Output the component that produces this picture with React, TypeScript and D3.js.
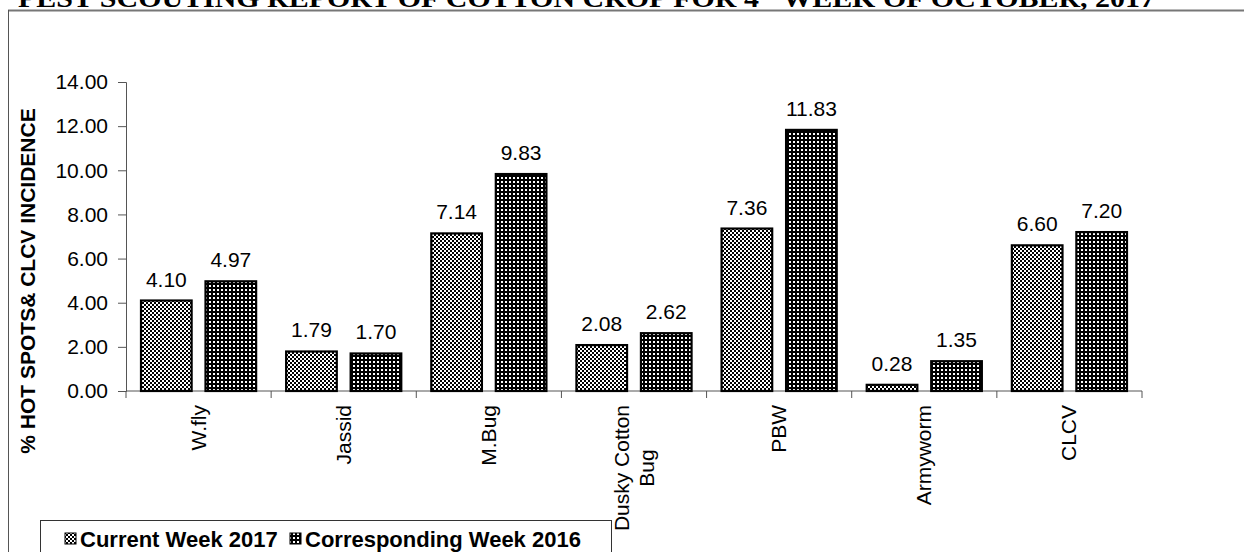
// @ts-nocheck
import { useEffect, useRef } from "react";
import * as d3 from "d3";

const categories = ["W.fly", "Jassid", "M.Bug", "Dusky Cotton\nBug", "PBW", "Armyworm", "CLCV"];
const current2017 = [4.1, 1.79, 7.14, 2.08, 7.36, 0.28, 6.6];
const corresponding2016 = [4.97, 1.7, 9.83, 2.62, 11.83, 1.35, 7.2];
const seriesNames = ["Current Week 2017", "Corresponding Week 2016"];
const yTicks = [0, 2, 4, 6, 8, 10, 12, 14];

const W = 1244;
const H = 552;
const sans = "'Liberation Sans', Arial, sans-serif";
const serif = "'Liberation Serif', 'Times New Roman', serif";

function App() {
  const svgRef = useRef<SVGSVGElement>(null);

  useEffect(() => {
    const svg = d3.select(svgRef.current);
    svg.selectAll("*").remove();

    // fill patterns
    const defs = svg.append("defs");
    const p1 = defs.append("pattern").attr("id", "checker").attr("patternUnits", "userSpaceOnUse")
      .attr("width", 4).attr("height", 4);
    p1.append("rect").attr("width", 4).attr("height", 4).attr("fill", "#fff");
    p1.append("rect").attr("x", 0).attr("y", 0).attr("width", 2).attr("height", 2).attr("fill", "#000");
    p1.append("rect").attr("x", 2).attr("y", 2).attr("width", 2).attr("height", 2).attr("fill", "#000");
    const p2 = defs.append("pattern").attr("id", "dots").attr("patternUnits", "userSpaceOnUse")
      .attr("width", 4).attr("height", 4);
    p2.append("rect").attr("width", 4).attr("height", 4).attr("fill", "#000");
    p2.append("rect").attr("x", 1).attr("y", 1).attr("width", 2).attr("height", 2).attr("fill", "#fff");
    const fills = ["url(#checker)", "url(#dots)"];

    // title (cut at top, as in the source) and outer frame
    const title = svg.append("text").attr("x", 18).attr("y", 7)
      .attr("font-family", serif).attr("font-weight", "bold").attr("font-size", 26)
      .attr("textLength", 1137).attr("lengthAdjust", "spacingAndGlyphs");
    title.append("tspan").text("PEST SCOUTING REPORT OF  COTTON CROP FOR 4");
    title.append("tspan").attr("dy", -10).attr("font-size", 16).text("th");
    title.append("tspan").attr("dy", 10).text("  WEEK OF OCTOBER, 2017");

    svg.append("line").attr("x1", 8).attr("x2", W).attr("y1", 10.5).attr("y2", 10.5)
      .attr("stroke", "#777").attr("stroke-width", 2);
    svg.append("line").attr("x1", 8.5).attr("x2", 8.5).attr("y1", 10).attr("y2", H)
      .attr("stroke", "#555").attr("stroke-width", 1);

    const x0 = d3.scaleBand().domain(categories).range([126, 1142]);
    const x1 = d3.scaleBand().domain([0, 1]).range([15, x0.bandwidth() - 15]).paddingInner(0.215);
    const y = d3.scaleLinear().domain([0, 14]).range([391, 82]);

    // y axis
    const yAxis = svg.append("g").attr("transform", "translate(126,0)")
      .call(d3.axisLeft(y).tickValues(yTicks).tickSize(8).tickPadding(10).tickFormat(d3.format(".2f")));
    yAxis.selectAll("path, line").attr("stroke", "#555");
    yAxis.selectAll("text").attr("font-family", sans).attr("font-size", 21).attr("fill", "#000");

    // x axis with ticks at category boundaries
    const xAxis = svg.append("g").attr("transform", "translate(0,391)");
    xAxis.append("line").attr("x1", 126).attr("x2", 1142).attr("stroke", "#555");
    const bounds = categories.map((c) => x0(c)).concat([1142]);
    xAxis.selectAll("line.tk").data(bounds).join("line").attr("class", "tk")
      .attr("x1", (d) => d).attr("x2", (d) => d).attr("y1", 0).attr("y2", 7).attr("stroke", "#555");

    // rotated category labels
    categories.forEach((c) => {
      const lines = c.split("\n");
      const cx = x0(c) + x0.bandwidth() / 2;
      const lh = 25;
      const g = svg.append("g").attr("transform", `translate(${cx},405) rotate(-90)`);
      const texts = lines.map((ln, i) =>
        g.append("text").attr("font-family", sans).attr("font-size", 21)
          .attr("y", (i - (lines.length - 1) / 2) * lh + 7).text(ln)
      );
      const maxW = d3.max(texts, (t) => t.node().getComputedTextLength());
      texts.forEach((t) => t.attr("text-anchor", "middle").attr("x", -maxW / 2));
    });

    // bars + value labels
    const series = [current2017, corresponding2016];
    series.forEach((vals, si) => {
      const g = svg.append("g");
      g.selectAll("rect").data(vals).join("rect")
        .attr("x", (d, i) => x0(categories[i]) + x1(si))
        .attr("y", (d) => y(d))
        .attr("width", x1.bandwidth())
        .attr("height", (d) => y(0) - y(d))
        .attr("fill", fills[si]).attr("stroke", "#000").attr("stroke-width", 2.2);
      g.selectAll("text").data(vals).join("text")
        .attr("x", (d, i) => x0(categories[i]) + x1(si) + x1.bandwidth() / 2)
        .attr("y", (d) => y(d) - 14)
        .attr("text-anchor", "middle").attr("font-family", sans).attr("font-size", 21)
        .text((d) => d3.format(".2f")(d));
    });

    // y axis title
    svg.append("text").attr("transform", "translate(35,281) rotate(-90)")
      .attr("text-anchor", "middle").attr("font-family", sans).attr("font-weight", "bold")
      .attr("font-size", 21).text("% HOT SPOTS& CLCV INCIDENCE");

    // legend
    const lg = svg.append("g");
    lg.append("rect").attr("x", 40.5).attr("y", 520.5).attr("width", 571).attr("height", 60)
      .attr("fill", "#fff").attr("stroke", "#333");
    const lx = [65, 290];
    seriesNames.forEach((s, i) => {
      lg.append("rect").attr("x", lx[i]).attr("y", 533).attr("width", 11).attr("height", 11)
        .attr("fill", fills[i]).attr("stroke", "#000").attr("stroke-width", 1);
      lg.append("text").attr("x", lx[i] + 15).attr("y", 547).attr("font-family", sans)
        .attr("font-weight", "bold").attr("font-size", 22).text(s);
    });
  }, []);

  return (
    <svg ref={svgRef} width={W} height={H}
      style={{ position: "absolute", left: 0, top: 0, background: "#fff" }} />
  );
}

export default App;
